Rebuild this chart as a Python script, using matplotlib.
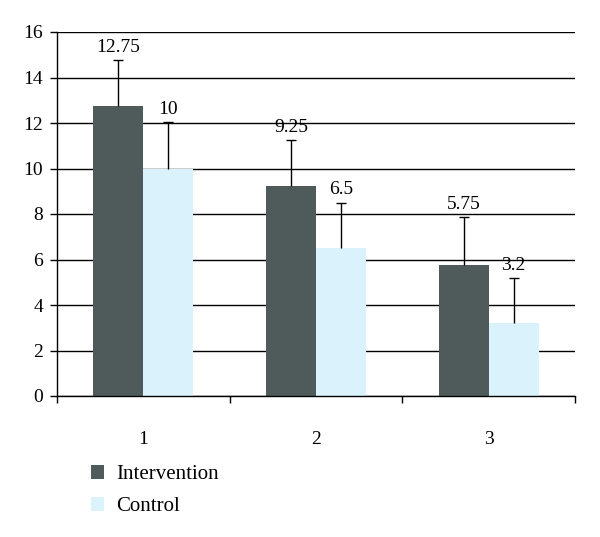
import matplotlib
matplotlib.use("Agg")
import matplotlib.pyplot as plt
from matplotlib.patches import Patch
import numpy as np

categories = ["1", "2", "3"]
intervention = [12.75, 9.25, 5.75]
control = [10, 6.5, 3.2]
intervention_err = [2.0, 2.0, 2.1]
control_err = [2.05, 2.0, 2.0]
series_names = ["Intervention", "Control"]

c_int = "#4f5b5b"
c_ctl = "#daf2fb"

plt.rcParams["font.family"] = ["Liberation Serif", "DejaVu Serif"]
FS = 14

fig = plt.figure(figsize=(6.0, 5.37), dpi=100)
ax = fig.add_axes([57/600, 1-396/537, (575-57)/600, (396-32)/537])

x = np.arange(1, len(categories)+1)
w = 0.29
ax.bar(x - w/2, intervention, width=w, color=c_int, zorder=2)
ax.bar(x + w/2, control, width=w, color=c_ctl, zorder=2)
for xs, vals, errs in [(x - w/2, intervention, intervention_err), (x + w/2, control, control_err)]:
    eb = ax.errorbar(xs, vals, yerr=[[0]*len(vals), errs], fmt="none",
                     ecolor="black", elinewidth=1, capsize=3.5, capthick=1, zorder=3)
    caps = eb[1]
    if len(caps) > 1:
        caps[0].set_visible(False)
    for xi, v, e in zip(xs, vals, errs):
        ax.annotate(f"{v:g}", (xi, v + e), xytext=(0, 3), textcoords="offset points",
                    ha="center", va="bottom", fontsize=FS)

ax.set_xlim(0.5, 3.5)
ax.set_ylim(0, 16)
ax.set_yticks(np.arange(0, 17, 2))
ax.yaxis.grid(True, color="black", linewidth=1)
ax.set_axisbelow(True)
ax.set_xticks(x)
ax.set_xticklabels(categories)
ax.set_xticks(np.arange(0.5, 3.6, 1), minor=True)
ax.tick_params(axis="x", which="major", length=0, labelsize=FS, pad=25)
ax.tick_params(axis="x", which="minor", length=5, width=1, direction="out")
ax.tick_params(axis="y", length=5, width=1, labelsize=FS, pad=5)
for s in ["top", "right"]:
    ax.spines[s].set_visible(False)
for s in ["left", "bottom"]:
    ax.spines[s].set_linewidth(1)
    ax.spines[s].set_color("black")

handles = [Patch(facecolor=c_int, edgecolor="none"), Patch(facecolor=c_ctl, edgecolor="none")]
fig.legend(handles, series_names, loc="upper left", bbox_to_anchor=(81/600, 1-455/537),
           frameon=False, fontsize=15, handlelength=0.6, handleheight=0.6,
           handletextpad=0.6, labelspacing=0.62, borderpad=0)

fig.savefig("out.png", dpi=100)
